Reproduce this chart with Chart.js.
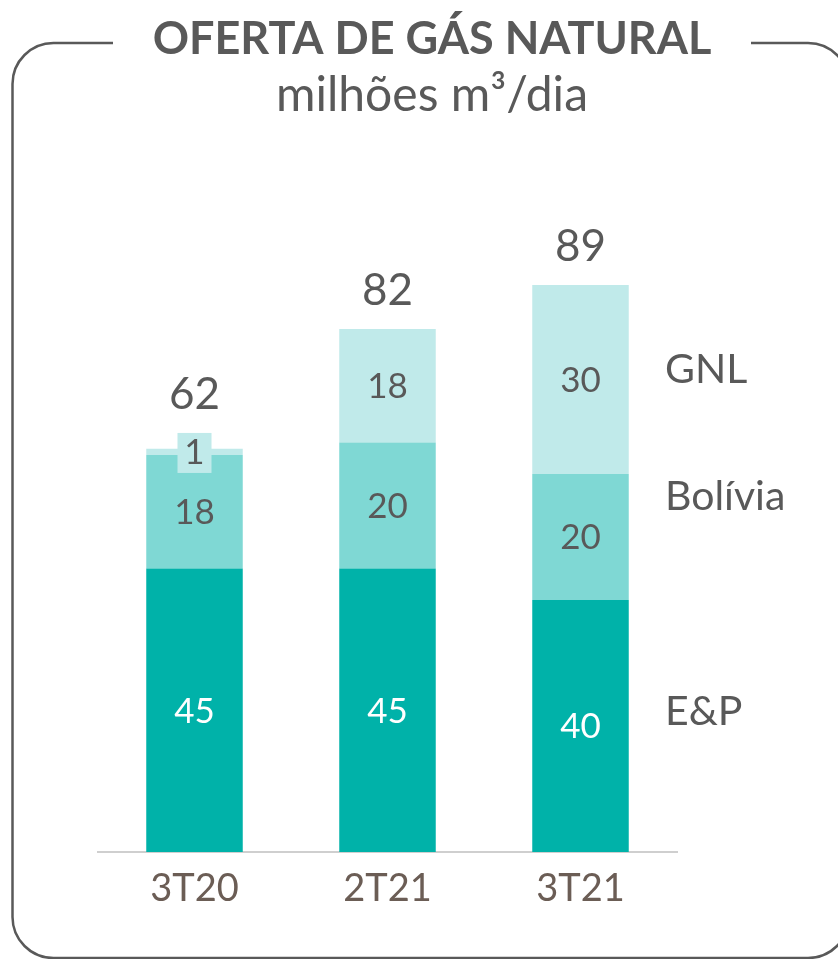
<!DOCTYPE html>
<html>
<head>
<meta charset="utf-8">
<title>Oferta de gás natural</title>
<script src="https://cdn.jsdelivr.net/npm/chart.js@4"></script>
<style>
  html, body { margin: 0; padding: 0; background: #fff; }
  #wrap { position: relative; width: 838px; height: 959px; }
</style>
</head>
<body>
<div id="wrap"><canvas id="myChart"></canvas></div>
<script>
const categories = ['3T20', '2T21', '3T21'];
const ep = [45, 45, 40];
const bolivia = [18, 20, 20];
const gnl = [1, 18, 30];
const totals = [62, 82, 89];
const seriesNames = ['E&P', 'Bolívia', 'GNL'];

const titleText = 'OFERTA DE GÁS NATURAL';
const subtitleText = 'milhões m³/dia';

const FONT = 'Lato';
const GREY = '#595959';
// vertical nudge of the series names next to the last bar (E&P, Bolívia, GNL)
const nameNudge = [-14, -40, -10];

// rounded frame with a gap in the top edge for the title
const framePlugin = {
  id: 'frame',
  beforeDraw(chart) {
    const ctx = chart.ctx;
    const l = 12.5, t = 43, r = 849, b = 958, rad = 41;
    ctx.save();
    ctx.strokeStyle = GREY;
    ctx.lineWidth = 2.5;
    ctx.beginPath();
    ctx.moveTo(113, t);
    ctx.lineTo(l + rad, t);
    ctx.arcTo(l, t, l, t + rad, rad);
    ctx.lineTo(l, b - rad);
    ctx.arcTo(l, b, l + rad, b, rad);
    ctx.lineTo(r - rad, b);
    ctx.arcTo(r, b, r, b - rad, rad);
    ctx.lineTo(r, t + rad);
    ctx.arcTo(r, t, r - rad, t, rad);
    ctx.lineTo(751, t);
    ctx.stroke();

    ctx.fillStyle = GREY;
    ctx.textAlign = 'center';
    ctx.textBaseline = 'middle';
    ctx.font = 'bold 45px ' + FONT;
    ctx.fillText(titleText, 432, 39);
    ctx.font = '48px ' + FONT;
    ctx.fillText(subtitleText, 432, 96);
    ctx.restore();
  }
};

// values inside the segments, totals on top, series names at the right
const labelPlugin = {
  id: 'labels',
  afterDatasetsDraw(chart) {
    const ctx = chart.ctx;
    ctx.save();
    ctx.textAlign = 'center';
    ctx.textBaseline = 'middle';
    const tops = [];
    chart.data.datasets.forEach((ds, di) => {
      const meta = chart.getDatasetMeta(di);
      meta.data.forEach((bar, i) => {
        const v = ds.data[i];
        const mid = (bar.y + bar.base) / 2;
        const h = Math.abs(bar.base - bar.y);
        let top = bar.y;
        ctx.font = '35px ' + FONT;
        if (h < 30) {
          // tiny segment: label sits on a small box of the same colour
          ctx.fillStyle = ds.backgroundColor;
          ctx.fillRect(bar.x - 17, mid - 19, 34, 40);
          top = mid - 19;
        }
        ctx.fillStyle = di === 0 ? '#ffffff' : GREY;
        ctx.fillText(String(v), bar.x, mid + 1);
        tops[i] = tops[i] === undefined ? top : Math.min(tops[i], top);
      });
    });

    ctx.fillStyle = GREY;
    ctx.font = '44px ' + FONT;
    totals.forEach((t, i) => {
      const x = chart.getDatasetMeta(0).data[i].x;
      ctx.fillText(String(t), x, tops[i] - 38);
    });

    ctx.textAlign = 'left';
    ctx.font = '41px ' + FONT;
    const last = categories.length - 1;
    seriesNames.forEach((name, di) => {
      const bar = chart.getDatasetMeta(di).data[last];
      const mid = (bar.y + bar.base) / 2;
      ctx.fillText(name, 665, mid + nameNudge[di]);
    });
    ctx.restore();
  }
};

const data = {
  labels: categories,
  datasets: [
    { label: seriesNames[0], data: ep, backgroundColor: '#00b2a9' },
    { label: seriesNames[1], data: bolivia, backgroundColor: '#7fd8d4' },
    { label: seriesNames[2], data: gnl, backgroundColor: '#c0eaea' }
  ]
};

const config = {
  type: 'bar',
  data: data,
  options: {
    responsive: true,
    maintainAspectRatio: false,
    animation: false,
    layout: { padding: { top: 222, left: 98, right: 161, bottom: 47 } },
    datasets: { bar: { barPercentage: 1, categoryPercentage: 0.5 } },
    plugins: {
      legend: { display: false },
      tooltip: { enabled: false }
    },
    scales: {
      x: {
        stacked: true,
        grid: { display: false },
        border: { color: '#cfcfcf', width: 2 },
        ticks: { color: '#6b5d55', font: { family: FONT, size: 38 }, padding: 6 },
        afterFit(scale) { scale.height = 60; }
      },
      y: {
        stacked: true,
        display: false,
        min: 0,
        max: 100
      }
    }
  },
  plugins: [framePlugin, labelPlugin]
};

new Chart(document.getElementById('myChart'), config);
</script>
</body>
</html>
